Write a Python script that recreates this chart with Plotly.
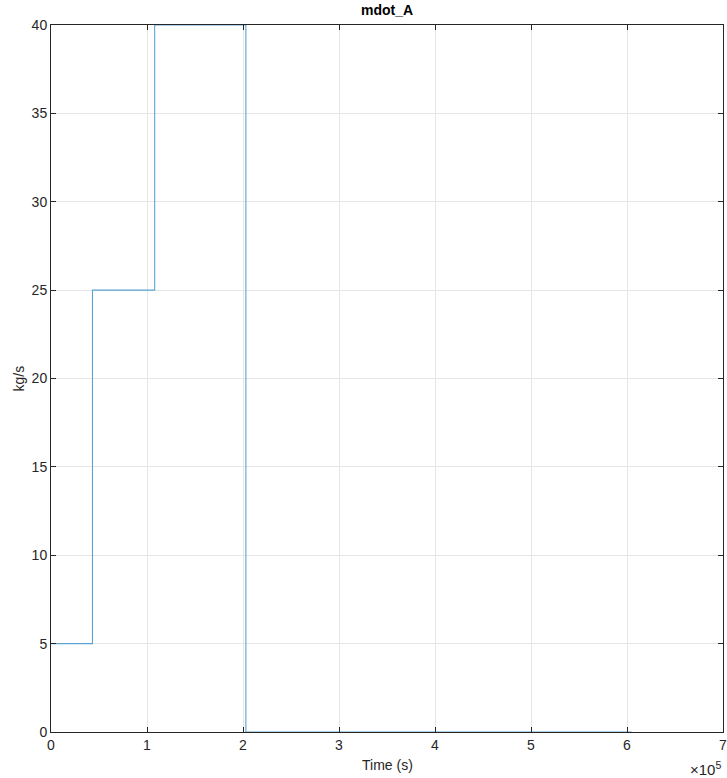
import plotly.graph_objects as go

# Mass-flow schedule: value held from each switch time until the next one
switch_times = [0, 43200, 108000, 203000, 604800]
mdot_values = [5, 25, 40, 0, 0]

x_tick_vals = [0, 1e5, 2e5, 3e5, 4e5, 5e5, 6e5, 7e5]
x_tick_text = ["0", "1", "2", "3", "4", "5", "6", "7"]
y_tick_vals = [0, 5, 10, 15, 20, 25, 30, 35, 40]

FONT = "Liberation Sans, Arial, Helvetica, sans-serif"
AX_COLOR = "#262626"
GRID = "#e6e6e6"

fig = go.Figure()
fig.add_trace(go.Scatter(
    x=switch_times, y=mdot_values, mode="lines",
    line=dict(color="#5aa3d4", width=1.1, shape="hv"),
    showlegend=False, hoverinfo="skip",
))

axis_common = dict(
    showline=True, linecolor=AX_COLOR, linewidth=1, mirror="ticks",
    ticks="inside", ticklen=5, tickcolor=AX_COLOR, tickwidth=1,
    showgrid=True, gridcolor=GRID, gridwidth=1, zeroline=False,
    automargin=False, ticklabeloverflow="allow",
    tickfont=dict(family=FONT, size=14, color=AX_COLOR),
)

fig.update_xaxes(range=[0, 7e5], tickvals=x_tick_vals, ticktext=x_tick_text, **axis_common)
fig.update_yaxes(range=[0, 40], tickvals=y_tick_vals, **axis_common)

plot_w, plot_h = 727 - 51 - 4, 778 - 25 - 46

fig.update_layout(
    width=727, height=778,
    margin=dict(l=51, r=4, t=25, b=46, autoexpand=False),
    plot_bgcolor="white", paper_bgcolor="white",
    annotations=[
        dict(text="<b>mdot_A</b>", xref="paper", yref="paper",
             x=0.5, y=(732 - 10) / plot_h, xanchor="center", yanchor="middle",
             showarrow=False, font=dict(family=FONT, size=14, color="#000000")),
        dict(text="kg/s", xref="paper", yref="paper", textangle=-90,
             x=(18 - 51) / plot_w, y=0.5, xanchor="center", yanchor="middle",
             showarrow=False, font=dict(family=FONT, size=14, color=AX_COLOR)),
        dict(text="Time (s)", xref="paper", yref="paper",
             x=0.5, y=(732 - 765) / plot_h, xanchor="center", yanchor="middle",
             showarrow=False, font=dict(family=FONT, size=14, color=AX_COLOR)),
        dict(text="×10<sup>5</sup>", xref="paper", yref="paper",
             x=1.0, y=(732 - 768) / plot_h, xanchor="right", yanchor="middle",
             showarrow=False, font=dict(family=FONT, size=15, color=AX_COLOR)),
    ],
)

fig.write_html("out.html")
